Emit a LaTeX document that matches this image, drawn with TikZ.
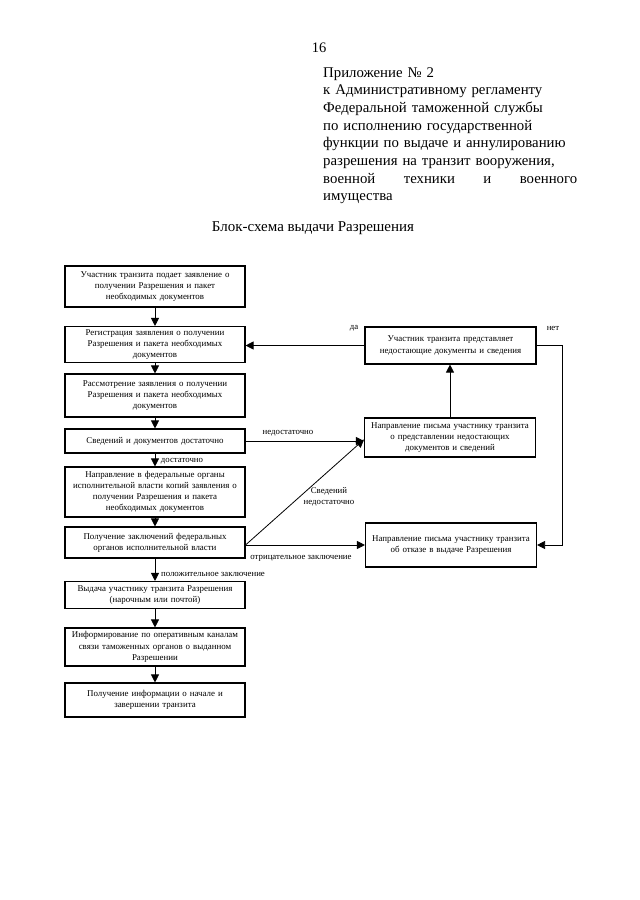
\documentclass[tikz,border=0pt]{standalone}
\usepackage{fontspec}
\setmainfont{Liberation Serif}
\usetikzlibrary{arrows.meta}

\begin{document}
\begin{tikzpicture}[x=1pt, y=-1pt,
    box/.style={draw, line width=1.1pt, align=center, inner sep=0pt, font=\fontsize{8.9}{11.2}\selectfont},
    lbox/.style={box, minimum width=180pt, text width=179pt},
    rbox/.style={box, minimum width=171pt, text width=170pt},
    arr/.style={-{Triangle[length=8pt,width=8pt]}, line width=0.8pt},
    lbl/.style={font=\fontsize{8.8}{11}\selectfont, inner sep=0pt, align=center}]
    \useasboundingbox (0,0) rectangle (640,900);
    \node[font=\fontsize{14.5}{16}\selectfont] (page) at (319, 48) {16};
    \node[anchor=north west, text width=256pt, align=left, inner sep=0pt,
          font=\fontsize{14.8}{17.7}\selectfont] (annex) at (323, 67)
        {Приложение № 2\\ к Административному регламенту\\ Федеральной таможенной службы\\
         по исполнению государственной\\ функции по выдаче и аннулированию\\
         разрешения на транзит вооружения,\\ \makebox[254pt]{военной\hfill техники\hfill и\hfill военного}\\ имущества};
    \node[font=\fontsize{15}{17}\selectfont] (title) at (313, 228) {Блок-схема выдачи Разрешения};
    \node[lbox, minimum height=41pt] (b1) at (155, 286.5)
        {Участник транзита подает заявление о\\ получении Разрешения и пакет\\ необходимых документов};
    \node[lbox, minimum height=36pt] (b2) at (155, 344.5)
        {Регистрация заявления о получении\\ Разрешения и пакета необходимых\\ документов};
    \node[lbox, minimum height=43pt] (b3) at (155, 395.5)
        {Рассмотрение заявления о получении\\ Разрешения и пакета необходимых\\ документов};
    \node[lbox, minimum height=24pt] (b4) at (155, 441)
        {Сведений и документов достаточно};
    \node[lbox, minimum height=50pt] (b5) at (155, 492)
        {Направление в федеральные органы\\ исполнительной власти копий заявления о\\ получении Разрешения и пакета\\ необходимых документов};
    \node[lbox, minimum height=31pt] (b6) at (155, 542.5)
        {Получение заключений федеральных\\ органов исполнительной власти};
    \node[lbox, minimum height=27pt] (b7) at (155, 595)
        {Выдача участнику транзита Разрешения\\ (нарочным или почтой)};
    \node[lbox, minimum height=38pt] (b8) at (155, 647)
        {Информирование по оперативным каналам\\ связи таможенных органов о выданном\\ Разрешении};
    \node[lbox, minimum height=34pt] (b9) at (155, 700)
        {Получение информации о начале и\\ завершении транзита};
    \node[rbox, minimum height=37pt] (r1) at (450.5, 345.5)
        {Участник транзита представляет\\ недостающие документы и сведения};
    \node[rbox, minimum height=39pt] (r2) at (450, 437.5)
        {Направление письма участнику транзита\\ о представлении недостающих\\ документов и сведений};
    \node[rbox, minimum height=44pt] (r3) at (451, 545)
        {Направление письма участнику транзита\\ об отказе в выдаче Разрешения};
    \foreach \a/\b in {b1/b2, b2/b3, b3/b4, b4/b5, b5/b6, b6/b7, b7/b8, b8/b9}
        \draw[arr] (\a) -- (\b);
    \draw[arr] (r2.north) -- (r2.north |- r1.south);
    \draw[arr] (r1.west) -- (r1.west -| b2.east);
    \coordinate (turn) at (562, 343);
    \draw[arr] (r1.east) -- (r1.east -| turn) |- (r3.east);
    \draw[arr] (b4.east) -- (b4.east -| r2.west);
    \coordinate (split) at (b6.east |- r3.west);
    \draw[arr] (split) -- ([yshift=-2pt]r2.west);
    \draw[arr] (split) -- (r3.west);
    \node[lbl] (yes) at (354, 328) {да};
    \node[lbl] (no) at (553, 328) {нет};
    \node[lbl] (short) at (288, 433) {недостаточно};
    \node[lbl] (enough) at (182, 461) {достаточно};
    \node[lbl] (lack) at (329, 497) {Сведений\\ недостаточно};
    \node[lbl] (neg) at (301, 558) {отрицательное заключение};
    \node[lbl] (pos) at (213, 574) {положительное заключение};
\end{tikzpicture}
\end{document}
